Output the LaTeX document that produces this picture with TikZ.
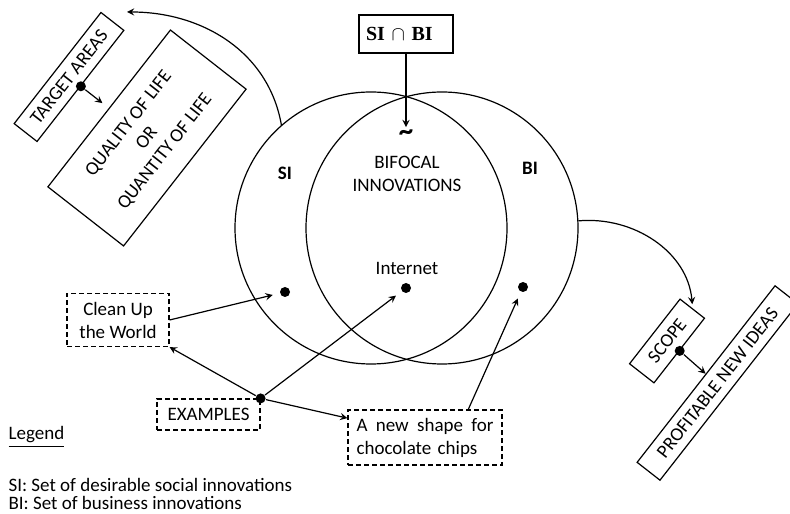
\documentclass[tikz,border=0pt]{standalone}
\usepackage{fontspec}
\setmainfont{Carlito}
\newfontfamily\timesfont{Liberation Serif}

\begin{document}
\begin{tikzpicture}[x=0.5pt, y=0.5pt,
    >=stealth, line width=0.6pt,
    setcircle/.style={circle, draw, minimum size=136pt, inner sep=0pt},
    blob/.style={circle, fill, minimum size=5pt, inner sep=0pt},
    dashbox/.style={rectangle, draw, dash pattern=on 2.5pt off 1.5pt, align=center},
    tiltbox/.style={rectangle, draw, rotate=52, align=center, inner sep=0pt},
    ]
\fontsize{9.5}{11.5}\selectfont
\useasboundingbox (0,0) rectangle (790,513);

% the two sets
\node[setcircle] (si) at (371,285) {};
\node[setcircle] (bi) at (442,285) {};
\node[font=\bfseries] (silabel) at (285,340) {SI};
\node[font=\bfseries] (bilabel) at (530,345) {BI};
\node[font=\bfseries\Large, inner sep=1pt] (tilde) at (406,378) {\textasciitilde};
\node[align=center] (bifocal) at (407,339) {BIFOCAL\\INNOVATIONS};
\node (internet) at (407,245) {Internet};
\node[blob] (sidot) at (285,221) {};
\node[blob] (netdot) at (406,225) {};
\node[blob] (bidot) at (523,226) {};

\node[draw, text width=40pt, align=left, inner xsep=3.5pt,
      minimum height=19pt, font=\timesfont\bfseries\fontsize{10}{12}\selectfont]
      (capbox) at (406,479) {SI\,\,$\cap$ BI};
\draw[->] (capbox) -- (tilde);

% target areas
\node[tiltbox, minimum width=70.5pt, minimum height=14.5pt] (areas) at (69,436) {TARGET AREAS};
\node[tiltbox, minimum width=99.5pt, minimum height=48pt] (quality) at (147,375)
      {QUALITY OF LIFE\\OR\\QUANTITY OF LIFE};
\node[blob] (areasdot) at (areas.south) {};
\draw[->, shorten >=4pt] (areasdot) -- (quality.north);
\coordinate (areasin) at (127,501);
\draw[->] (si.131) to[out=100, in=0] (areasin);

% scope
\node[tiltbox, minimum width=41pt, minimum height=15.5pt] (scope) at (667,172) {SCOPE};
\node[tiltbox, minimum width=112pt, minimum height=14.5pt] (ideas) at (717.5,130) {PROFITABLE NEW IDEAS};
\node[blob] (scopedot) at (scope.south) {};
\draw[->] (scopedot) -- (ideas.north);
\draw[->, shorten >=2pt] (bi.3) to[out=5, in=95] (scope.east);

% examples
\node[dashbox, minimum width=51pt, minimum height=26.5pt] (cleanup) at (118,193) {Clean Up\\the World};
\node[dashbox, minimum width=51.5pt, minimum height=15.5pt] (examples) at (208.5,98.5) {EXAMPLES};
\node[dashbox, text width=68.5pt, align=left, inner xsep=4.25pt, minimum height=27.5pt]
      (chips) at (425,75.5) {A\hfill new\hfill shape\hfill for\\chocolate chips};
\node[blob] (exdot) at (examples.north east) {};
\draw[->, shorten >=3.5pt] (cleanup.east) -- (sidot);
\draw[->] (exdot) -- (cleanup.south east);
\draw[->, shorten >=3.5pt] (exdot) -- (netdot);
\draw[->] (exdot) -- (chips.166);
\draw[->, shorten >=3.5pt] (chips.33) -- (bidot);

% legend
\node[anchor=west, inner xsep=0pt] (legend) at (8,76) {\underline{Legend}};
\node[anchor=west, inner xsep=0pt] (legsi) at (8,28) {SI: Set of desirable social innovations};
\node[anchor=west, inner xsep=0pt] (legbi) at (8,10) {BI: Set of business innovations};
\end{tikzpicture}
\end{document}
